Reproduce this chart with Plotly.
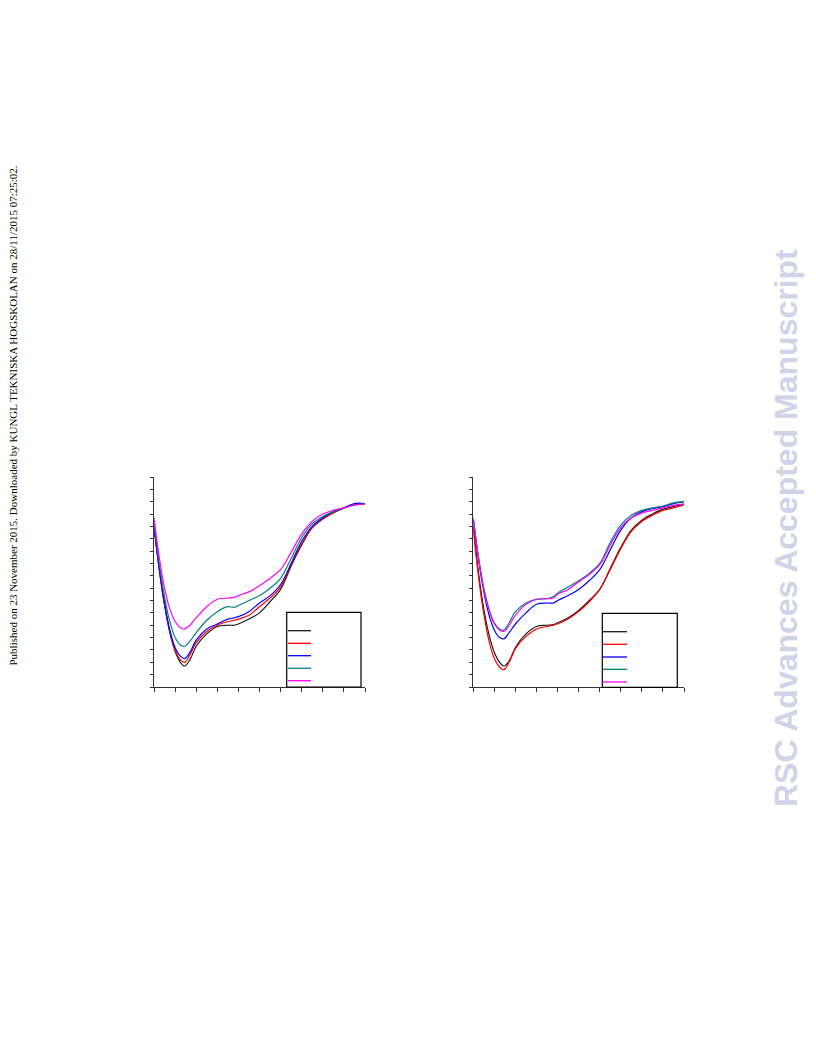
import plotly.graph_objects as go

x = [0, 0.25, 0.5, 0.75, 1.0, 1.25, 1.45, 1.7, 2, 2.5, 3, 3.5, 3.8, 4, 4.5, 5, 5.5, 6, 6.5, 7, 7.5, 8, 8.5, 9, 9.5, 10]

# Left panel
left_black = [13.0, 9.5, 6.6, 4.4, 2.9, 2.0, 1.7, 2.2, 3.3, 4.3, 4.9, 5.0, 5.0, 5.1, 5.5, 6.0, 6.9, 7.9, 9.8, 11.5, 12.9, 13.6, 14.1, 14.5, 14.8, 14.8]
left_red = [13.0, 9.5, 6.7, 4.5, 3.0, 2.2, 2.0, 2.6, 3.6, 4.5, 5.0, 5.3, 5.4, 5.5, 5.8, 6.5, 7.2, 8.1, 9.9, 11.6, 12.9, 13.6, 14.1, 14.5, 14.75, 14.8]
left_blue = [13.0, 9.6, 6.8, 4.6, 3.2, 2.5, 2.3, 2.8, 3.8, 4.7, 5.1, 5.5, 5.6, 5.7, 6.1, 6.8, 7.4, 8.3, 10.0, 11.8, 13.0, 13.7, 14.2, 14.5, 14.85, 14.85]
left_teal = [13.3, 10.0, 7.3, 5.3, 4.0, 3.4, 3.3, 3.7, 4.4, 5.4, 6.1, 6.5, 6.45, 6.6, 7.0, 7.4, 8.0, 8.8, 10.4, 12.1, 13.2, 13.8, 14.2, 14.5, 14.75, 14.8]
left_magenta = [13.7, 10.5, 8.0, 6.3, 5.3, 4.8, 4.7, 5.0, 5.6, 6.5, 7.1, 7.2, 7.25, 7.4, 7.7, 8.2, 8.8, 9.5, 10.9, 12.4, 13.4, 14.0, 14.3, 14.5, 14.75, 14.8]

# Right panel
right_black = [13.0, 9.2, 6.3, 4.2, 2.8, 2.0, 1.7, 2.1, 3.2, 4.3, 4.9, 5.0, 5.05, 5.2, 5.6, 6.2, 7.0, 7.9, 9.6, 11.3, 12.7, 13.5, 14.0, 14.4, 14.6, 14.8]
right_red = [12.8, 8.9, 5.9, 3.7, 2.3, 1.6, 1.4, 2.0, 3.1, 4.1, 4.7, 4.9, 5.0, 5.1, 5.5, 6.1, 6.9, 7.9, 9.5, 11.2, 12.6, 13.4, 13.9, 14.3, 14.5, 14.75]
right_blue = [13.6, 10.3, 7.7, 5.8, 4.6, 4.0, 3.9, 4.4, 5.1, 6.0, 6.7, 6.8, 6.8, 7.0, 7.4, 7.9, 8.6, 9.5, 11.1, 12.7, 13.7, 14.2, 14.45, 14.6, 14.85, 15.0]
right_teal = [13.6, 10.5, 8.0, 6.3, 5.2, 4.7, 4.6, 5.2, 6.1, 6.8, 7.1, 7.15, 7.3, 7.6, 8.1, 8.6, 9.2, 10.0, 11.7, 13.1, 13.9, 14.3, 14.5, 14.65, 14.9, 15.0]
right_magenta = [13.7, 10.4, 7.9, 6.2, 5.1, 4.6, 4.5, 5.0, 5.8, 6.7, 7.1, 7.15, 7.2, 7.5, 7.9, 8.5, 9.1, 9.9, 11.5, 12.9, 13.7, 14.1, 14.3, 14.5, 14.7, 14.8]

colors = ["#1a1a1a", "#ff0000", "#0000ff", "#008080", "#ff00ff"]
left_series = [left_black, left_red, left_blue, left_teal, left_magenta]
right_series = [right_black, right_red, right_blue, right_teal, right_magenta]

W, H = 816, 1056
OFF = 8  # page body margin offset

def px_x(v):
    return (v - OFF) / W

def px_y(v):
    return 1 - (v - OFF) / H

fig = go.Figure()

for ys, c in zip(left_series, colors):
    fig.add_trace(go.Scatter(x=x, y=ys, mode="lines", line=dict(color=c, width=1.2, shape="spline", smoothing=1.0),
                             xaxis="x", yaxis="y", showlegend=False, hoverinfo="skip"))
for ys, c in zip(right_series, colors):
    fig.add_trace(go.Scatter(x=x, y=ys, mode="lines", line=dict(color=c, width=1.2, shape="spline", smoothing=1.0),
                             xaxis="x2", yaxis="y2", showlegend=False, hoverinfo="skip"))

ydom = [px_y(687), px_y(477)]
axis_common = dict(showgrid=False, zeroline=False, showline=True, linecolor="#333333", linewidth=1,
                   ticks="outside", tickcolor="#333333", tickwidth=1, showticklabels=False)

fig.update_layout(
    width=W, height=H,
    margin=dict(l=0, r=0, t=0, b=0),
    paper_bgcolor="white", plot_bgcolor="white",
    xaxis=dict(domain=[px_x(154), px_x(365)], range=[0, 10], dtick=1, tick0=0, ticklen=4, anchor="y", **axis_common),
    yaxis=dict(domain=ydom, range=[0, 17], dtick=1, tick0=0, ticklen=3, anchor="x", **axis_common),
    xaxis2=dict(domain=[px_x(473.3), px_x(684)], range=[0, 10], dtick=1, tick0=0, ticklen=4, anchor="y2", **axis_common),
    yaxis2=dict(domain=ydom, range=[0, 17], dtick=1, tick0=0, ticklen=3, anchor="x2", **axis_common),
)

shapes = []
legend_boxes = [
    dict(x0=286.7, x1=361, y0=612.3, y1=687, lx0=288, lx1=311, ly=[630.7, 643.3, 655.7, 668.3, 680.7]),
    dict(x0=602.3, x1=677.3, y0=613.3, y1=687.3, lx0=603, lx1=627, ly=[631.7, 644.3, 657, 669.3, 682]),
]
for b in legend_boxes:
    shapes.append(dict(type="rect", xref="paper", yref="paper", x0=px_x(b["x0"]), x1=px_x(b["x1"]),
                       y0=px_y(b["y1"]), y1=px_y(b["y0"]), line=dict(color="black", width=1.2),
                       fillcolor="white", layer="above"))
    for ly, c in zip(b["ly"], colors):
        shapes.append(dict(type="line", xref="paper", yref="paper", x0=px_x(b["lx0"]), x1=px_x(b["lx1"]),
                           y0=px_y(ly), y1=px_y(ly), line=dict(color=c, width=1.3), layer="above"))
fig.update_layout(shapes=shapes)

fig.add_annotation(
    text="Published on 23 November 2015. Downloaded by KUNGL TEKNISKA HOGSKOLAN on 28/11/2015 07:25:02.",
    xref="paper", yref="paper", x=px_x(12.5), y=px_y(416), showarrow=False, textangle=-90,
    font=dict(family="Liberation Serif", size=11, color="black"), xanchor="center", yanchor="middle")
fig.add_annotation(
    text="<b>RSC Advances Accepted Manuscript</b>",
    xref="paper", yref="paper", x=px_x(786), y=px_y(528), showarrow=False, textangle=-90,
    font=dict(family="Liberation Sans", size=32, color="#d2d2e8"), xanchor="center", yanchor="middle")

fig.write_html("out.html")
